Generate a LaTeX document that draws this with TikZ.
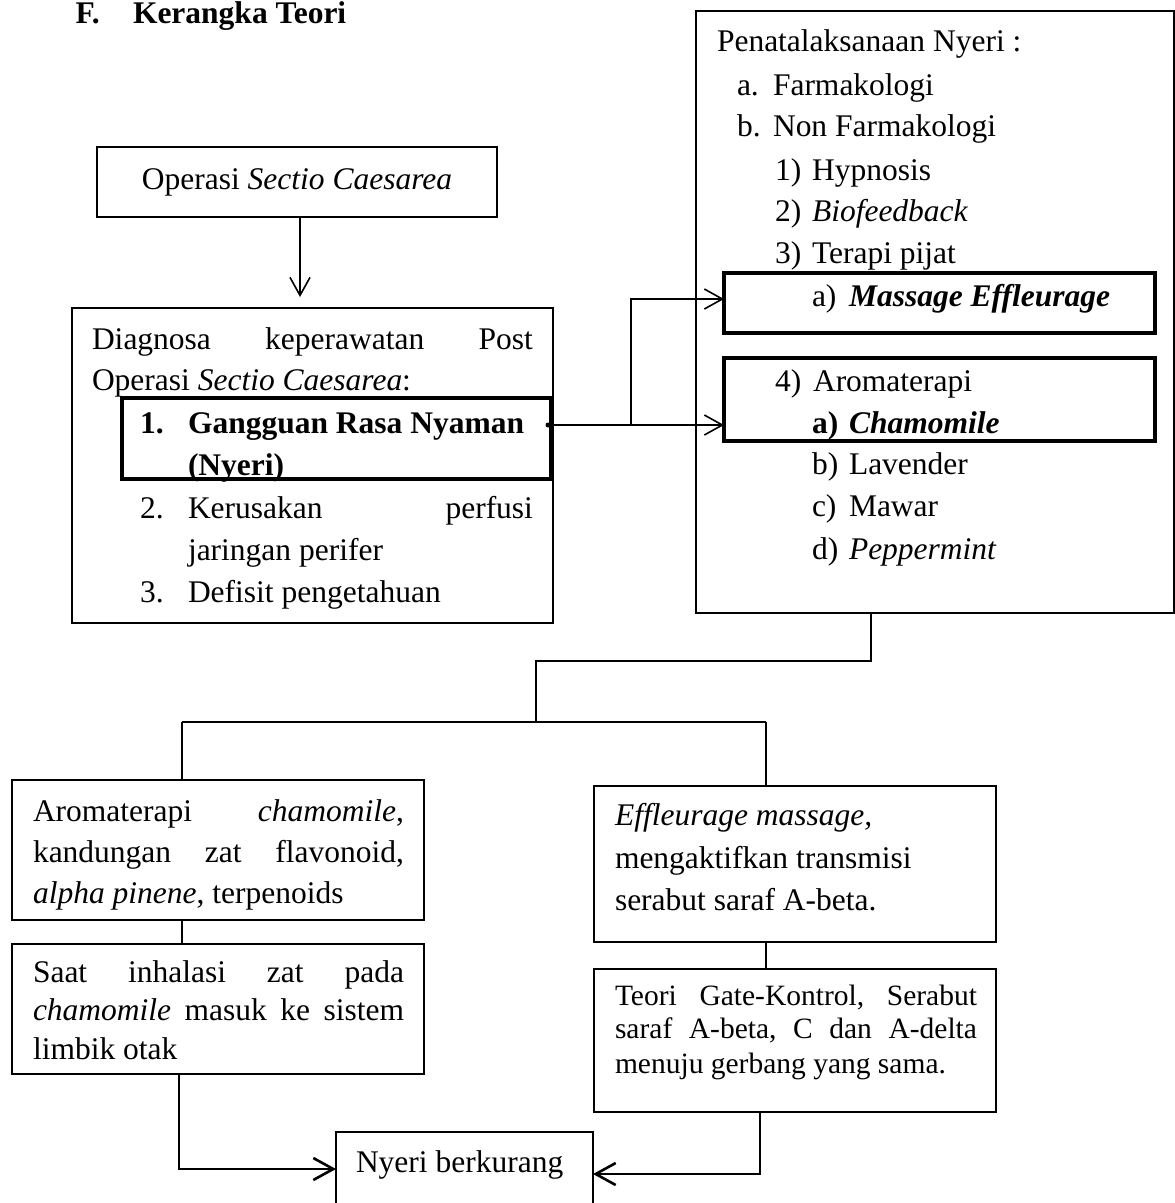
\documentclass[tikz,border=0pt]{standalone}
\usepackage{fontspec}
\setmainfont{Liberation Serif}
\usetikzlibrary{arrows.meta}
\newcommand{\myfs}{\fontsize{31.5}{40}\selectfont}
\newcommand{\mysfs}{\fontsize{29.5}{36}\selectfont}
\begin{document}
\begin{tikzpicture}[x=1pt,y=-1pt,
  box/.style={draw, line width=1.6pt, inner sep=0pt, outer sep=0pt, rectangle},
  thinbox/.style={draw, line width=1.3pt, inner sep=0pt, outer sep=0pt, rectangle},
  thickbox/.style={draw, line width=3.2pt, inner sep=0pt, outer sep=0pt, rectangle},
  txt/.style={anchor=base west, inner sep=0pt, outer sep=0pt, font=\myfs},
  stxt/.style={anchor=base west, inner sep=0pt, outer sep=0pt, font=\mysfs},
  conn/.style={line width=1.5pt},
  arr/.style={line width=1.6pt, -{Straight Barb[length=18pt, width=20pt]}},
  barr/.style={line width=2.6pt, -{Straight Barb[length=20pt, width=22pt]}},
]
\useasboundingbox (0,0) rectangle (1175,1203);
\clip (0,0) rectangle (1175,1203);

% title
\node[txt, font=\myfs\bfseries] (tF) at (75.5,23) {F.};
\node[txt, font=\myfs\bfseries] (tK) at (133,23) {Kerangka Teori};

% box A
\node[box, minimum width=400pt, minimum height=70pt] (A) at (297,182) {};
\node[txt, anchor=base] (tA) at (297,189) {Operasi \textit{Sectio Caesarea}};

% box B
\node[box, minimum width=481pt, minimum height=315pt] (B) at (312.5,465.5) {};
\node[txt] (b1) at (92,349) {\hbox to 441pt{Diagnosa\hfill keperawatan\hfill Post}};
\node[txt] (b2) at (92,390) {Operasi \textit{Sectio Caesarea}:};
\node[txt, font=\myfs\bfseries] (b3n) at (140,433) {1.};
\node[txt, font=\myfs\bfseries] (b3) at (188,433) {Gangguan Rasa Nyaman};
\node[txt, font=\myfs\bfseries] (b4) at (188,475) {(Nyeri)};
\node[txt] (b5n) at (140,518) {2.};
\node[txt] (b5) at (188,518) {\hbox to 345pt{Kerusakan\hfill perfusi}};
\node[txt] (b6) at (188,560) {jaringan perifer};
\node[txt] (b7n) at (140,602) {3.};
\node[txt] (b7) at (188,602) {Defisit pengetahuan};
\node[thickbox, minimum width=429pt, minimum height=81pt] (B1) at (336.5,438.5) {};

\coordinate (aB) at (300,297);
\draw[arr] (A.south -| aB) -- (aB);

% box C
\node[box, minimum width=478pt, minimum height=602pt] (C) at (935,312) {};
\node[thickbox, minimum width=431pt, minimum height=60pt] (C1) at (939.5,303) {};
\node[thickbox, minimum width=431pt, minimum height=83pt] (C2) at (939.5,399.5) {};
\node[txt] (c1) at (717,51) {Penatalaksanaan Nyeri :};
\node[txt] (c2n) at (737,95) {a.};
\node[txt] (c2) at (773,95) {Farmakologi};
\node[txt] (c3n) at (737,136) {b.};
\node[txt] (c3) at (773,136) {Non Farmakologi};
\node[txt] (c4n) at (775,180) {1)};
\node[txt] (c4) at (812,180) {Hypnosis};
\node[txt] (c5n) at (775,221) {2)};
\node[txt] (c5) at (812,221) {\textit{Biofeedback}};
\node[txt] (c6n) at (775,263) {3)};
\node[txt] (c6) at (812,263) {Terapi pijat};
\node[txt] (c7n) at (812,306) {a)};
\node[txt] (c7) at (849,306) {\textbf{\textit{Massage Effleurage}}};
\node[txt] (c8n) at (775,391) {4)};
\node[txt] (c8) at (813,391) {Aromaterapi};
\node[txt] (c9n) at (812,433) {\textbf{a)}};
\node[txt] (c9) at (849,433) {\textbf{\textit{Chamomile}}};
\node[txt] (c10n) at (812,474) {b)};
\node[txt] (c10) at (849,474) {Lavender};
\node[txt] (c11n) at (812,516) {c)};
\node[txt] (c11) at (849,516) {Mawar};
\node[txt] (c12n) at (812,559) {d)};
\node[txt] (c12) at (849,559) {\textit{Peppermint}};

% arrows from Gangguan
\node[circle, fill, inner sep=0pt, minimum size=5pt] (dot) at (548,425) {};
\coordinate (br) at (631,425);
\draw[arr] (dot.center) -- (C2.west |- dot);
\draw[arr] (br) |- ([yshift=4pt]C1.west);

% tree from C
\coordinate (j1) at (871,661);
\coordinate (j2) at (536,661);
\coordinate (j3) at (536,722);
\coordinate (hl) at (182,722);
\coordinate (hr) at (766,722);
\draw[conn] (C.south -| j1) -- (j1) -- (j2) -- (j3);
\draw[conn] (hl) -- (hr);

% bottom boxes
\node[thinbox, minimum width=412pt, minimum height=140pt] (D) at (218,850) {};
\node[thinbox, minimum width=412pt, minimum height=130pt] (F) at (218,1009) {};
\node[thinbox, minimum width=402pt, minimum height=156pt] (E) at (795,864) {};
\node[thinbox, minimum width=402pt, minimum height=143pt] (G) at (795,1040.5) {};
\node[thinbox, minimum width=257pt, minimum height=83pt] (N) at (464.5,1173.5) {};

\draw[conn] (hl) -- (D.north -| hl);
\draw[conn] (hr) -- (E.north -| hr);
\draw[conn] (D.south -| hl) -- (F.north -| hl);
\draw[conn] (E.south -| hr) -- (G.north -| hr);

\node[txt] (d1) at (33,821) {\hbox to 371pt{Aromaterapi\hfill \textit{chamomile},}};
\node[txt] (d2) at (33,862) {\hbox to 371pt{kandungan\hfill zat\hfill flavonoid,}};
\node[txt] (d3) at (33,903) {\textit{alpha pinene}, terpenoids};

\node[txt] (f1) at (33,982) {\hbox to 371pt{Saat\hfill inhalasi\hfill zat\hfill pada}};
\node[txt] (f2) at (33,1020) {\hbox to 371pt{\textit{chamomile}\hfill masuk\hfill ke\hfill sistem}};
\node[txt] (f3) at (33,1059) {limbik otak};

\node[txt] (e1) at (615,825) {\textit{Effleurage massage,}};
\node[txt] (e2) at (615,868) {mengaktifkan transmisi};
\node[txt] (e3) at (615,910) {serabut saraf A-beta.};

\node[stxt] (g1) at (615,1005) {\hbox to 362pt{Teori\hfill Gate-Kontrol,\hfill Serabut}};
\node[stxt] (g2) at (615,1038) {\hbox to 362pt{saraf\hfill A-beta,\hfill C\hfill dan\hfill A-delta}};
\node[stxt] (g3) at (615,1073) {menuju gerbang yang sama.};

\node[txt] (n1) at (356,1172) {Nyeri berkurang};

\coordinate (la) at (179,1169);
\coordinate (ra) at (760,1174);
\draw[barr] (F.south -| la) -- (la) -- (N.west |- la);
\draw[barr] (G.south -| ra) -- (ra) -- (N.east |- ra);
\end{tikzpicture}
\end{document}
